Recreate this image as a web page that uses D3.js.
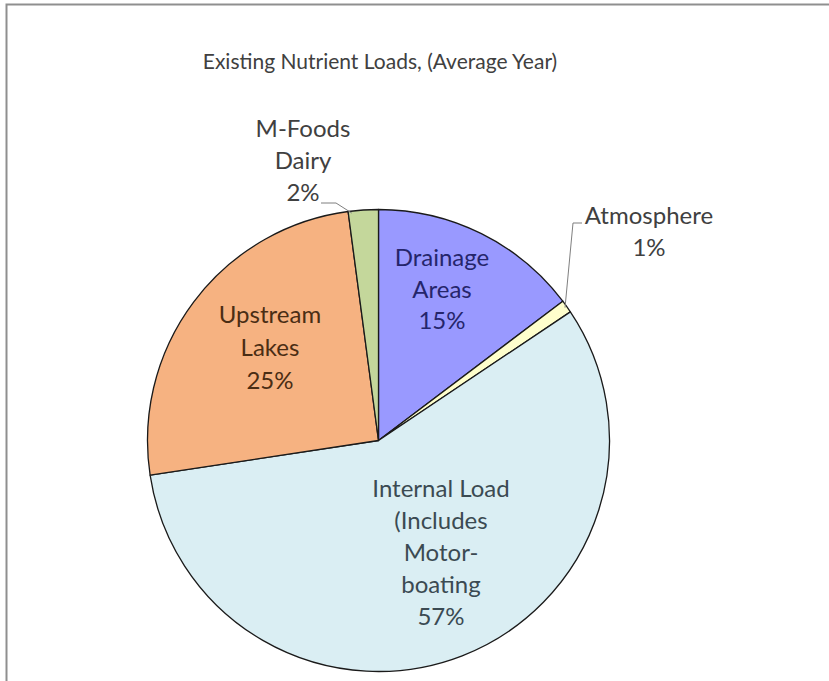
<!DOCTYPE html>
<html>
<head>
<meta charset="utf-8">
<script src="https://cdn.jsdelivr.net/npm/d3@7"></script>
<style>
  body { margin: 0; background: #fff; }
  text { font-family: Lato, "Open Sans", sans-serif; }
</style>
</head>
<body>
<div id="chart"></div>
<script>
// slice data, clockwise from 12 o'clock
var categories = ["Drainage Areas", "Atmosphere", "Internal Load", "Upstream Lakes", "M-Foods Dairy"];
var values = [14.7, 0.9, 57.0, 25.3, 2.1];
var labelLines = [
  ["Drainage", "Areas"],
  ["Atmosphere"],
  ["Internal Load", "(Includes", "Motor-", "boating"],
  ["Upstream", "Lakes"],
  ["M-Foods", "Dairy"]
];
var title = "Existing Nutrient Loads, (Average Year)";

var colors = ["#9999ff", "#ffffcc", "#daeef3", "#f6b281", "#c4d79b"];
var textColors = ["#25256b", "#404040", "#3b4a52", "#4a2d14", "#404040"];

var width = 829;
var height = 681;
var cx = 378.5;
var cy = 440.5;
var radius = 231;

// label anchor (centre x, first baseline y, line step)
var labelPos = [
  {x: 442, y: 266, step: 31.5},
  {x: 649, y: 224, step: 32},
  {x: 441, y: 497, step: 32},
  {x: 270, y: 323, step: 33},
  {x: 303, y: 137, step: 32}
];

var svg = d3.select("#chart").append("svg")
  .attr("width", width)
  .attr("height", height);

// frame (only top and left edges are visible in the crop)
svg.append("rect")
  .attr("x", 6.5)
  .attr("y", 4.5)
  .attr("width", width + 20)
  .attr("height", height + 20)
  .attr("fill", "none")
  .attr("stroke", "#8f8f8f")
  .attr("stroke-width", 2);

svg.append("text")
  .attr("x", 380)
  .attr("y", 69)
  .attr("text-anchor", "middle")
  .attr("fill", "#404040")
  .style("font-size", "21px")
  .text(title);

var pie = d3.pie().sort(null).value(function(d) { return d; });
var arcs = pie(values);

var arc = d3.arc().innerRadius(0).outerRadius(radius);

var g = svg.append("g")
  .attr("transform", "translate(" + cx + "," + cy + ")");

g.selectAll(".slice")
  .data(arcs)
  .enter()
  .append("path")
  .attr("class", "slice")
  .attr("d", arc)
  .attr("fill", function(d, i) { return colors[i]; })
  .attr("stroke", "#1a1a1a")
  .attr("stroke-width", 1.3)
  .attr("stroke-linejoin", "round");

// leader lines for the two small slices
var edgeArc = d3.arc().innerRadius(radius - 2).outerRadius(radius - 2);
function edgePoint(d) {
  return edgeArc.centroid(d).map(function(v, k) { return v + (k ? cy : cx); });
}
var pA = edgePoint(arcs[1]);
var pD = edgePoint({startAngle: arcs[4].startAngle, endAngle: arcs[4].startAngle + 0.03});
var leaders = [
  [[582, 223], [573, 223], pA],
  [[321, 203], [336, 203], pD]
];
svg.selectAll(".leader")
  .data(leaders)
  .enter()
  .append("path")
  .attr("class", "leader")
  .attr("d", d3.line())
  .attr("fill", "none")
  .attr("stroke", "#7f7f7f")
  .attr("stroke-width", 1);

// data labels
arcs.forEach(function(d, i) {
  var lines = labelLines[i].concat([Math.round(d.data) + "%"]);
  var p = labelPos[i];
  var t = svg.append("text")
    .attr("text-anchor", "middle")
    .attr("fill", textColors[i])
    .style("font-size", "24px");
  lines.forEach(function(s, j) {
    t.append("tspan")
      .attr("x", p.x)
      .attr("y", p.y + j * p.step)
      .text(s);
  });
});
</script>
</body>
</html>
